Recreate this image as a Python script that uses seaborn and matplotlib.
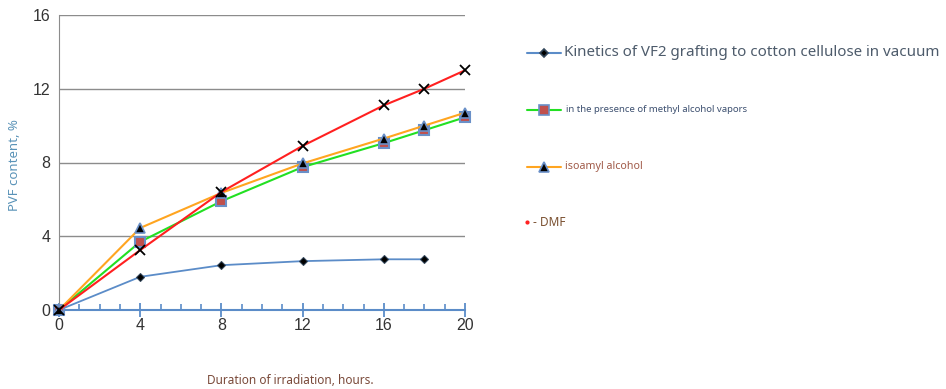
import matplotlib
matplotlib.use("Agg")
import matplotlib.pyplot as plt
from matplotlib.lines import Line2D
from matplotlib.ticker import MultipleLocator
import seaborn as sns
import pandas as pd

# ---- data ----
hours_vacuum = [0, 4, 8, 12, 16, 18]
vacuum = [0, 1.8, 2.43, 2.65, 2.75, 2.75]
hours = [0, 4, 8, 12, 16, 18, 20]
methyl = [0, 3.7, 5.9, 7.75, 9.05, 9.75, 10.45]
isoamyl = [0, 4.45, 6.35, 7.95, 9.3, 10.0, 10.7]
dmf = [0, 3.25, 6.4, 8.9, 11.1, 12.0, 13.0]
labels = ["Kinetics of VF2 grafting to cotton cellulose in vacuum",
          "in the presence of methyl alcohol vapors",
          "isoamyl alcohol",
          "- DMF"]
x_ticks = [0, 4, 8, 12, 16, 20]
y_ticks = [0, 4, 8, 12, 16]

sns.set_style("white")
plt.rcParams['font.family'] = ['Noto Sans', 'DejaVu Sans']

fig = plt.figure(figsize=(9.46, 3.89), dpi=100)
ax = fig.add_axes([59/946, 1-310/389, (465-59)/946, (310-15)/389])

sns.lineplot(x=hours_vacuum, y=vacuum, ax=ax, color="#5b8cc8", lw=1.3,
             marker="D", markersize=4.5, markerfacecolor="black",
             markeredgecolor="#33475b", zorder=3, clip_on=False)
sns.lineplot(x=hours, y=methyl, ax=ax, color="#22e022", lw=1.5,
             marker="s", markersize=7, markerfacecolor="#c0504d",
             markeredgecolor="#6a90c8", markeredgewidth=1.5, zorder=4,
             clip_on=False)
sns.lineplot(x=hours, y=isoamyl, ax=ax, color="#ffa520", lw=1.5,
             marker="^", markersize=7, markerfacecolor="black",
             markeredgecolor="#6a90c8", markeredgewidth=1.2, zorder=5,
             clip_on=False)
sns.lineplot(x=hours, y=dmf, ax=ax, color="#ff2020", lw=1.5,
             marker="x", markersize=7, markeredgecolor="black",
             markeredgewidth=1.3, zorder=6, clip_on=False)

ax.set_xlim(0, 20)
ax.set_ylim(0, 16)
ax.set_xticks(x_ticks)
ax.set_yticks(y_ticks)
ax.xaxis.set_minor_locator(MultipleLocator(1))
ax.set_xlabel("")
ax.set_ylabel("")
ax.grid(axis="y", color="#8c8c8c", lw=1)
ax.grid(axis="x", visible=False)
for s in ["top", "right"]:
    ax.spines[s].set_visible(False)
ax.spines["left"].set_color("#8c8c8c")
ax.spines["bottom"].set_color("#5b8cc8")
ax.spines["bottom"].set_linewidth(1.5)
ax.tick_params(axis="x", which="major", bottom=True, direction="inout",
               length=10, width=1.3, color="#5b8cc8", labelsize=11.5,
               labelcolor="#333333", pad=1)
ax.tick_params(axis="x", which="minor", bottom=True, direction="in",
               length=4, width=1.2, color="#5b8cc8")
ax.tick_params(axis="y", left=False, length=0, labelsize=11.5,
               labelcolor="#333333", pad=6)
ax.set_axisbelow(True)
for t in ax.get_xticklabels() + ax.get_yticklabels():
    t.set_fontfamily(["Liberation Sans", "DejaVu Sans"])

fig.text(15/946, 1-165/389, "PVF content, %", rotation=90, ha="center",
         va="center", color="#5a93b8", fontsize=9.5)
fig.text(290/946, 1-381/389, "Duration of irradiation, hours.", ha="center",
         va="center", color="#7a4a3a", fontsize=8.5)

# ---- legend (drawn manually) ----
tr = fig.transFigure
def fy(y):
    return 1 - y/389
def fx(x):
    return x/946

leg = [
    (53, "#5b8cc8", "D", "black", "#33475b", 4.5, labels[0], 10.9, "#4d5b6b", 564),
    (110, "#22e022", "s", "#c0504d", "#6a90c8", 7, labels[1], 6.9, "#3d5070", 566),
    (167, "#ffa520", "^", "black", "#6a90c8", 7, labels[2], 7.7, "#a05a48", 565),
]
for y, lc, mk, mfc, mec, ms, txt, fs, tc, tx in leg:
    fig.add_artist(Line2D([fx(527), fx(561)], [fy(y), fy(y)], transform=tr,
                          color=lc, lw=1.5))
    fig.add_artist(Line2D([fx(544)], [fy(y)], transform=tr, marker=mk,
                          markersize=ms, markerfacecolor=mfc,
                          markeredgecolor=mec, markeredgewidth=1.2, lw=0))
    fig.text(fx(tx), fy(y), txt, ha="left", va="center", fontsize=fs, color=tc)

fig.add_artist(Line2D([fx(527)], [fy(222)], transform=tr, marker="o",
                      markersize=2, color="#ff2020", lw=0))
fig.text(fx(533), fy(222), labels[3], ha="left", va="center", fontsize=8.5,
         color="#7a5030")

fig.savefig("out.png", dpi=100)
